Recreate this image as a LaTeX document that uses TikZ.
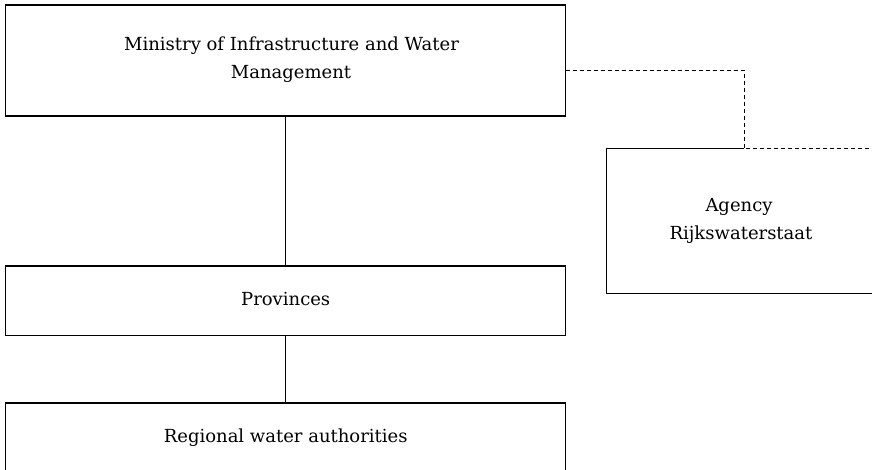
\documentclass[tikz,border=0pt]{standalone}
\usepackage{fontspec}
\setmainfont{DejaVu Serif}
\begin{document}
\begin{tikzpicture}[x=1pt,y=-1pt,
  box/.style={draw=black,line width=1.1pt,rectangle,inner sep=0pt,outer sep=0pt},
  nobox/.style={rectangle,inner sep=0pt,outer sep=0pt},
  lbl/.style={anchor=base,inner sep=0pt,font=\fontsize{18}{28}\selectfont,text=black},
  link/.style={line width=1.1pt},
  dlink/.style={line width=0.9pt,dash pattern=on 4pt off 3pt}]
\useasboundingbox (0,0) rectangle (872,470);
% boxes
\node[box,minimum width=560pt,minimum height=111pt] (min) at (285.7,60.5) {};
\node[box,minimum width=560pt,minimum height=69.7pt] (prov) at (285.7,300.85) {};
\node[box,minimum width=560pt,minimum height=80pt] (reg) at (285.7,443) {};
\node[nobox,minimum width=300pt,minimum height=144.6pt] (agency) at (756.7,221) {};
% texts
\node[lbl] (t1) at (291.5,51) {Ministry of Infrastructure and Water};
\node[lbl] (t2) at (291,79) {Management};
\node[lbl] (t3) at (285.7,305) {Provinces};
\node[lbl] (t4) at (285.7,442.7) {Regional water authorities};
\node[lbl] (t5) at (739,211.7) {Agency};
\node[lbl] (t6) at (741,240) {Rijkswaterstaat};
% connectors
\coordinate (bend) at (744,70);
\draw[link] (min.south) -- (prov.north);
\draw[link] (prov.south) -- (reg.north);
\draw[box] (bend |- agency.north) -- (agency.north west) -- (agency.south west) -- (agency.south east);
\draw[dlink] (min.east |- bend) -- (bend) -- (bend |- agency.north) -- (agency.north east);
\end{tikzpicture}
\end{document}
